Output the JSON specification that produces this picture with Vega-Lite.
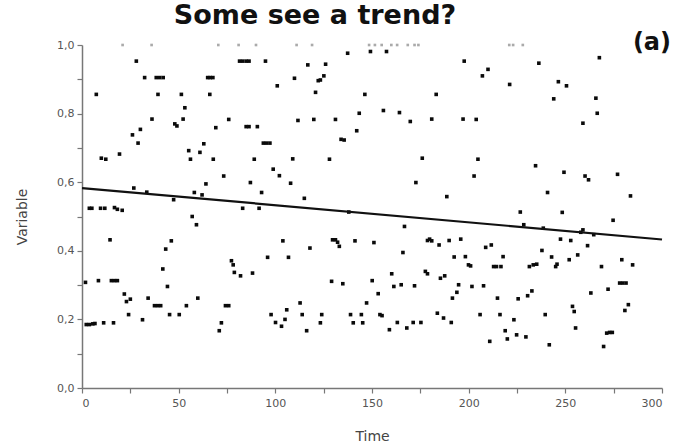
{
  "$schema": "https://vega.github.io/schema/vega-lite/v6.json",
  "width": 580,
  "height": 343,
  "autosize": {"type": "none"},
  "padding": {"left": 82, "top": 45, "right": 16, "bottom": 56},
  "background": "white",
  "config": {"view": {"stroke": null}},
  "title": {
    "text": "Some see a trend?",
    "font": "DejaVu Sans",
    "fontSize": 27,
    "fontWeight": "bold",
    "color": "#111111",
    "anchor": "middle",
    "dx": -57,
    "dy": 24,
    "baseline": "alphabetic",
    "offset": 4
  },
  "datasets": {
    "pts": [
      {"t":1.8,"v":0.308},{"t":2.2,"v":0.185},{"t":3.8,"v":0.185},{"t":5.6,"v":0.187},{"t":6.7,"v":0.188},
      {"t":3.8,"v":0.524},{"t":5.1,"v":0.524},{"t":7.4,"v":0.856},{"t":8.5,"v":0.313},{"t":9.6,"v":0.524},
      {"t":11.8,"v":0.524},{"t":10,"v":0.67},{"t":12.3,"v":0.667},{"t":11.2,"v":0.19},{"t":14.5,"v":0.432},
      {"t":15.2,"v":0.313},{"t":16.8,"v":0.313},{"t":18.3,"v":0.313},{"t":16.3,"v":0.19},{"t":16.8,"v":0.526},
      {"t":18.3,"v":0.521},{"t":19.4,"v":0.682},{"t":20.8,"v":0.518},{"t":21.9,"v":0.274},{"t":23,"v":0.252},
      {"t":24.1,"v":0.214},{"t":25,"v":0.259},{"t":26.1,"v":0.738},{"t":26.8,"v":0.583},{"t":28.1,"v":0.953},
      {"t":29,"v":0.714},{"t":30.2,"v":0.754},{"t":31.3,"v":0.199},{"t":32.4,"v":0.905},{"t":33.5,"v":0.571},
      {"t":34.2,"v":0.262},{"t":36.2,"v":0.784},{"t":37.5,"v":0.24},{"t":39.1,"v":0.24},{"t":40.7,"v":0.24},
      {"t":38.4,"v":0.905},{"t":40.2,"v":0.905},{"t":42,"v":0.905},{"t":39.3,"v":0.856},{"t":41.8,"v":0.347},
      {"t":43.3,"v":0.405},{"t":44.2,"v":0.296},{"t":45.3,"v":0.214},{"t":46.2,"v":0.429},{"t":47.4,"v":0.549},
      {"t":48,"v":0.77},{"t":49.1,"v":0.764},{"t":50.3,"v":0.214},{"t":51.4,"v":0.856},{"t":52.3,"v":0.784},
      {"t":53.2,"v":0.817},{"t":54,"v":0.24},{"t":55.2,"v":0.692},{"t":56.1,"v":0.667},{"t":57,"v":0.5},
      {"t":58.1,"v":0.57},{"t":59.2,"v":0.476},{"t":59.9,"v":0.262},{"t":61,"v":0.687},{"t":62.1,"v":0.563},
      {"t":63,"v":0.712},{"t":64.1,"v":0.595},{"t":65,"v":0.905},{"t":66.3,"v":0.905},{"t":67.7,"v":0.905},
      {"t":66.1,"v":0.856},{"t":67.9,"v":0.667},{"t":69.2,"v":0.759},{"t":71,"v":0.167},{"t":72.1,"v":0.19},
      {"t":73.3,"v":0.618},{"t":74.2,"v":0.24},{"t":75.9,"v":0.24},{"t":75.9,"v":0.783},{"t":77.3,"v":0.371},
      {"t":78.2,"v":0.359},{"t":78.8,"v":0.337},{"t":81.5,"v":0.953},{"t":83.1,"v":0.953},{"t":84.9,"v":0.953},
      {"t":86.4,"v":0.953},{"t":82,"v":0.327},{"t":83.1,"v":0.524},{"t":84.9,"v":0.762},{"t":86.4,"v":0.762},
      {"t":87.1,"v":0.599},{"t":88.2,"v":0.335},{"t":89.1,"v":0.667},{"t":90.7,"v":0.762},{"t":91.6,"v":0.524},
      {"t":92.9,"v":0.57},{"t":93.8,"v":0.714},{"t":95.4,"v":0.714},{"t":97.2,"v":0.714},{"t":94.9,"v":0.953},
      {"t":96,"v":0.381},{"t":97.8,"v":0.214},{"t":98.9,"v":0.638},{"t":100.1,"v":0.191},{"t":101,"v":0.881},
      {"t":102.1,"v":0.619},{"t":103.2,"v":0.18},{"t":103.9,"v":0.429},{"t":105,"v":0.2},{"t":105.9,"v":0.228},
      {"t":106.8,"v":0.381},{"t":107.9,"v":0.597},{"t":109,"v":0.668},{"t":109.9,"v":0.903},{"t":111.7,"v":0.78},
      {"t":112.8,"v":0.248},{"t":113.9,"v":0.214},{"t":115,"v":0.553},{"t":116.2,"v":0.167},{"t":116.8,"v":0.942},
      {"t":117.9,"v":0.408},{"t":119.9,"v":0.783},{"t":120.8,"v":0.862},{"t":122.2,"v":0.896},{"t":123.3,"v":0.898},
      {"t":123.3,"v":0.19},{"t":124,"v":0.214},{"t":125.1,"v":0.91},{"t":126,"v":0.944},{"t":128,"v":0.667},
      {"t":129.1,"v":0.311},{"t":129.6,"v":0.432},{"t":131.1,"v":0.432},{"t":132.2,"v":0.425},{"t":131.1,"v":0.783},
      {"t":133.1,"v":0.413},{"t":134,"v":0.725},{"t":135.6,"v":0.723},{"t":134.9,"v":0.304},{"t":137.4,"v":0.976},
      {"t":138,"v":0.513},{"t":138.9,"v":0.214},{"t":140.3,"v":0.19},{"t":141.2,"v":0.429},{"t":142.1,"v":0.75},
      {"t":143.4,"v":0.801},{"t":144.5,"v":0.214},{"t":145.2,"v":0.19},{"t":146.3,"v":0.856},{"t":147.2,"v":0.248},
      {"t":149.2,"v":0.981},{"t":150.1,"v":0.313},{"t":151,"v":0.424},{"t":153.2,"v":0.275},{"t":154.1,"v":0.214},
      {"t":155.2,"v":0.211},{"t":155.9,"v":0.809},{"t":157.5,"v":0.981},{"t":159,"v":0.17},{"t":160.2,"v":0.333},
      {"t":161.3,"v":0.296},{"t":163.1,"v":0.191},{"t":164.2,"v":0.803},{"t":165.1,"v":0.301},{"t":166,"v":0.395},
      {"t":166.8,"v":0.471},{"t":168,"v":0.175},{"t":169.8,"v":0.777},{"t":171.3,"v":0.191},{"t":172,"v":0.298},
      {"t":172.7,"v":0.599},{"t":175.3,"v":0.191},{"t":176,"v":0.67},{"t":177.6,"v":0.34},{"t":178.7,"v":0.333},
      {"t":178.7,"v":0.43},{"t":179.8,"v":0.434},{"t":180.9,"v":0.429},{"t":180.9,"v":0.784},{"t":183.2,"v":0.856},
      {"t":183.8,"v":0.218},{"t":184.7,"v":0.417},{"t":185.4,"v":0.32},{"t":187.6,"v":0.327},{"t":187,"v":0.204},
      {"t":188.7,"v":0.558},{"t":189.9,"v":0.43},{"t":191,"v":0.191},{"t":191.6,"v":0.262},{"t":192.5,"v":0.382},
      {"t":193.9,"v":0.279},{"t":194.8,"v":0.301},{"t":195.9,"v":0.434},{"t":197.1,"v":0.784},{"t":197.7,"v":0.953},
      {"t":198.3,"v":0.383},{"t":199.9,"v":0.359},{"t":201,"v":0.356},{"t":201.7,"v":0.296},{"t":202.8,"v":0.618},
      {"t":203.9,"v":0.783},{"t":204.8,"v":0.667},{"t":205.9,"v":0.214},{"t":207.1,"v":0.91},{"t":207.7,"v":0.298},
      {"t":208.8,"v":0.41},{"t":210,"v":0.929},{"t":210.9,"v":0.136},{"t":211.7,"v":0.417},{"t":212.9,"v":0.354},
      {"t":214.4,"v":0.354},{"t":216.7,"v":0.354},{"t":214.9,"v":0.262},{"t":216.2,"v":0.214},{"t":217.8,"v":0.383},
      {"t":218.9,"v":0.167},{"t":220,"v":0.143},{"t":223.4,"v":0.199},{"t":221.2,"v":0.885},{"t":225.6,"v":0.26},
      {"t":224.8,"v":0.155},{"t":226.7,"v":0.513},{"t":228.5,"v":0.476},{"t":229.6,"v":0.149},{"t":230.5,"v":0.269},
      {"t":231.4,"v":0.354},{"t":232.7,"v":0.283},{"t":233.4,"v":0.359},{"t":235.2,"v":0.361},{"t":234.6,"v":0.648},
      {"t":236.3,"v":0.947},{"t":237.9,"v":0.401},{"t":238.6,"v":0.466},{"t":239.6,"v":0.214},{"t":240.8,"v":0.57},
      {"t":241.7,"v":0.126},{"t":242.9,"v":0.382},{"t":244,"v":0.843},{"t":245,"v":0.354},{"t":245.7,"v":0.361},
      {"t":246.4,"v":0.893},{"t":247.5,"v":0.434},{"t":248.4,"v":0.512},{"t":249.3,"v":0.629},{"t":250.6,"v":0.881},
      {"t":252,"v":0.374},{"t":252.8,"v":0.43},{"t":253.7,"v":0.238},{"t":254.6,"v":0.223},{"t":255.3,"v":0.175},
      {"t":256.4,"v":0.388},{"t":258,"v":0.454},{"t":259.1,"v":0.461},{"t":259.1,"v":0.772},{"t":260.2,"v":0.618},
      {"t":262,"v":0.607},{"t":261.5,"v":0.415},{"t":263.2,"v":0.277},{"t":264.7,"v":0.447},{"t":265.8,"v":0.845},
      {"t":266.5,"v":0.801},{"t":267.6,"v":0.963},{"t":268.7,"v":0.354},{"t":269.8,"v":0.121},{"t":271.4,"v":0.16},
      {"t":272.9,"v":0.162},{"t":274.3,"v":0.162},{"t":272.1,"v":0.288},{"t":274.7,"v":0.489},{"t":277,"v":0.623},
      {"t":278.1,"v":0.306},{"t":279.7,"v":0.306},{"t":281.4,"v":0.306},{"t":279.2,"v":0.374},{"t":280.8,"v":0.226},
      {"t":282.6,"v":0.243},{"t":283.7,"v":0.56},{"t":284.8,"v":0.359}
    ],
    "top": [
      {"t":21,"v":1},{"t":36,"v":1},{"t":70.5,"v":1},{"t":81,"v":1},{"t":90,"v":1},{"t":111,"v":1},
      {"t":119,"v":1},{"t":148.5,"v":1},{"t":151.5,"v":1},{"t":155,"v":1},{"t":160,"v":1},{"t":163,"v":1},
      {"t":168.5,"v":1},{"t":172,"v":1},{"t":174,"v":1},{"t":221,"v":1},{"t":223,"v":1},{"t":228,"v":1}
    ],
    "trend": [{"t":0,"v":0.583},{"t":300,"v":0.433}],
    "lab": [{"t":294.8,"v":1.006,"txt":"(a)"}]
  },
  "encoding": {
    "x": {
      "field": "t", "type": "quantitative",
      "scale": {"domain": [0, 300], "nice": false, "zero": false},
      "axis": {
        "title": "Time",
        "values": [0,25,50,75,100,125,150,175,200,225,250,275,300],
        "labelExpr": "datum.value % 50 == 0 ? datum.label : ''",
        "grid": false,
        "domainColor": "#777777", "domainWidth": 1.5,
        "tickColor": "#777777", "tickSize": 5, "tickWidth": 1.2,
        "labelFont": "DejaVu Sans", "labelFontSize": 11, "labelColor": "#555555", "labelPadding": 4,
        "titleFont": "DejaVu Sans", "titleFontSize": 14, "titleFontWeight": "normal", "titleColor": "#444444", "titlePadding": 21
      }
    },
    "y": {
      "field": "v", "type": "quantitative",
      "scale": {"domain": [0, 1], "nice": false},
      "axis": {
        "title": "Variable",
        "values": [0,0.1,0.2,0.3,0.4,0.5,0.6,0.7,0.8,0.9,1.0],
        "labelExpr": "round(datum.value*10) % 2 == 0 ? replace(format(datum.value, '.1f'), '.', ',') : ''",
        "grid": false,
        "domainColor": "#777777", "domainWidth": 1.5,
        "tickColor": "#777777", "tickSize": 5, "tickWidth": 1.2,
        "labelFont": "DejaVu Sans", "labelFontSize": 11, "labelColor": "#555555", "labelPadding": 3,
        "titleFont": "DejaVu Sans", "titleFontSize": 14, "titleFontWeight": "normal", "titleColor": "#444444", "titlePadding": 27
      }
    }
  },
  "layer": [
    {
      "data": {"name": "top"},
      "mark": {"type": "square", "size": 7, "color": "#aaaaaa", "opacity": 1, "clip": false}
    },
    {
      "data": {"name": "pts"},
      "mark": {"type": "square", "size": 13, "color": "#0a0a0a", "opacity": 1}
    },
    {
      "data": {"name": "trend"},
      "mark": {"type": "line", "color": "#111111", "strokeWidth": 2.2},
      "encoding": {}
    },
    {
      "data": {"name": "lab"},
      "mark": {"type": "text", "font": "DejaVu Sans", "fontSize": 24, "fontWeight": "bold", "color": "#111111", "baseline": "middle", "align": "center"},
      "encoding": {"text": {"field": "txt"}}
    }
  ]
}
